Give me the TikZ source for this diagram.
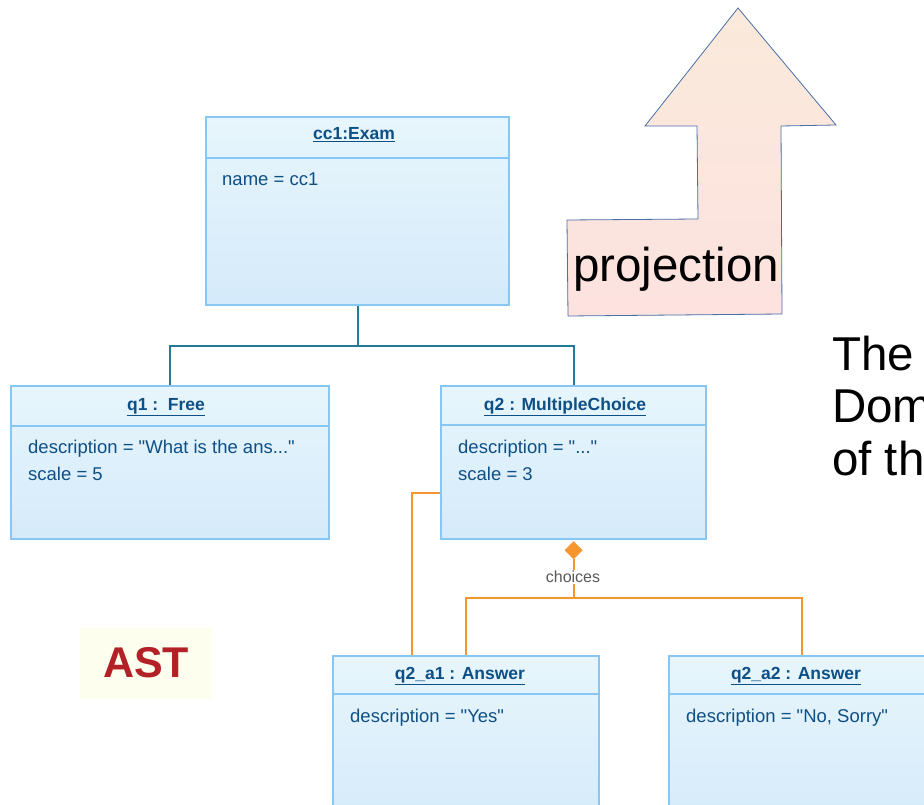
\documentclass[tikz,border=0pt]{standalone}
\usepackage{fontspec}
\setmainfont{Liberation Sans}
% a family without TeX ligatures, so that " stays a straight quote
\newfontfamily\uifont{Liberation Sans}
\usetikzlibrary{calc}
\definecolor{boxline}{HTML}{88C6F4}
\definecolor{boxtop}{HTML}{E7F6FC}
\definecolor{boxbot}{HTML}{D5EAFA}
\definecolor{boxtext}{HTML}{0E4F86}
\definecolor{treeline}{HTML}{217C93}
\definecolor{choiceline}{HTML}{F7952F}
\definecolor{arrowline}{HTML}{4A6EA8}
\definecolor{arrowtop}{HTML}{FAEADB}
\definecolor{arrowbot}{HTML}{FDE2DF}
\definecolor{astbg}{HTML}{FEFEEE}
\definecolor{astred}{HTML}{B32025}
\tikzset{
  objbox/.style={draw=boxline, line width=2.2pt, top color=boxtop, bottom color=boxbot,
    anchor=north west, inner sep=0pt},
  divider/.style={draw=boxline, line width=2.2pt},
  objtitle/.style={text=boxtext, font=\uifont\fontsize{17.5}{20}\selectfont\bfseries, inner sep=0pt},
  objattr/.style={text=boxtext, font=\uifont\fontsize{18.5}{21}\selectfont, inner sep=0pt, anchor=base west},
  tree/.style={draw=treeline, line width=2pt},
  choice/.style={draw=choiceline, line width=2pt},
  bigtext/.style={font=\fontsize{47.5}{50}\selectfont, inner sep=0pt, anchor=base west},
}
\begin{document}
\begin{tikzpicture}[x=1pt,y=-1pt]
\useasboundingbox[clip] (0,0) rectangle (924,805);
\fill[white] (0,0) rectangle (924,805);

% projection arrow
\path[draw=arrowline, line width=0.8pt, top color=arrowtop, bottom color=arrowbot]
  (738,8) -- (836,125) -- (781,126) -- (782,314) -- (568,316) -- (567,220)
  -- (698,219) -- (697,126) -- (645,126) -- cycle;
\node[bigtext] (proj) at (573,282) {projection};

% side text
\node[bigtext] (side1) at (832,370) {The};
\node[bigtext] (side2) at (832,422) {Domain};
\node[bigtext] (side3) at (832,475) {of the};

% AST label
\node[fill=astbg, minimum width=132pt, minimum height=71pt, inner sep=0pt,
      text=astred, font=\fontsize{43}{46}\selectfont\bfseries] (ast) at (146,663) {AST};

% object boxes
\node[objbox, minimum width=303pt, minimum height=188pt] (cc1) at (205,116) {};
\draw[divider] (205,158) -- (508,158);
\node[objtitle] (cc1t) at (354,135) {\underline{cc1:Exam}};
\node[objattr] (cc1a) at (222,186) {name = cc1};

\node[objbox, minimum width=318pt, minimum height=153pt] (q1) at (10,385) {};
\draw[divider] (10,426) -- (328,426);
\node[objtitle] (q1t) at (166,407) {\underline{q1 :\ \ Free}};
\node[objattr] (q1a) at (28,453) {description = "What is the ans..."};
\node[objattr] (q1b) at (28,480) {scale = 5};

\node[objbox, minimum width=265pt, minimum height=153pt] (q2) at (440,385) {};
\draw[divider] (440,425) -- (705,425);
\node[objtitle] (q2t) at (565,407) {\underline{q2 : MultipleChoice}};
\node[objattr] (q2a) at (458,453) {description = "..."};
\node[objattr] (q2b) at (458,480) {scale = 3};

\node[objbox, minimum width=266pt, minimum height=170pt] (a1) at (332,655) {};
\draw[divider] (332,694) -- (598,694);
\node[objtitle] (a1t) at (460,676) {\underline{q2\_a1 : Answer}};
\node[objattr] (a1a) at (350,722) {description = "Yes"};

\node[objbox, minimum width=266pt, minimum height=170pt] (a2) at (668,655) {};
\draw[divider] (668,694) -- (934,694);
\node[objtitle] (a2t) at (796,676) {\underline{q2\_a2 : Answer}};
\node[objattr] (a2a) at (686,722) {description = "No, Sorry"};

% containment tree
\draw[tree] (cc1.south) -- ++(0,40) coordinate (fork) -| (q1.north);
\draw[tree] (fork) -| (q2.north);

% q2 -> q2_a1 link
\draw[choice] ([yshift=-30pt]q2.west) -| ([xshift=-54pt]a1.north);

% composition "choices"
\coordinate (dtop) at ([yshift=-1pt]q2.south);
\fill[choiceline] (dtop) -- ++(9,9) -- ++(-9,9) -- ++(-9,-9) -- cycle;
\coordinate (dbot) at ([yshift=-19pt]q2.south);
\draw[choice] (dbot) -- ++(0,39) coordinate (cfork) -| (a1.north);
\draw[choice] (cfork) -| (a2.north);
\node[text=black!65, font=\fontsize{16}{18}\selectfont, fill=white, inner sep=1pt] (clabel) at (573,577) {choices};
\end{tikzpicture}
\end{document}
